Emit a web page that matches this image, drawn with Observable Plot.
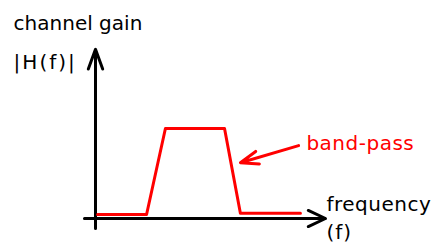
<!DOCTYPE html>
<html>
<head>
<meta charset="utf-8">
<script src="https://cdn.jsdelivr.net/npm/d3@7"></script>
<script src="https://cdn.jsdelivr.net/npm/@observablehq/plot@0.6"></script>
<style>
  html, body { margin: 0; padding: 0; background: #fff; }
</style>
</head>
<body>
<div id="chart"></div>
<script>
// Band-pass channel gain (arbitrary units)
const frequency = [0.09, 2.22, 3.04, 5.61, 6.30, 8.91];
const gain      = [0.044, 0.044, 1.0, 1.0, 0.058, 0.058];

// Axis extents (arbitrary units)
const xAxisFrom = [-0.48, 0], xAxisTo = [10.0, 0];
const yAxisFrom = [0, -0.11], yAxisTo = [0, 1.88];

// Annotation arrow (from label toward curve)
const annotFrom = [8.83, 0.81], annotTo = [6.30, 0.62];

// Text labels
const labelText = ["channel gain", "|H(f)|", "band-pass", "frequency", "(f)"];
const labelF    = [-3.56, -3.56, 9.17, 10.04, 10.04];
const labelG    = [2.09, 1.656, 0.756, 0.078, -0.225];
const labelColor = ["black", "black", "red", "black", "black"];
const labelSpacing = ["0px", "2px", "0.5px", "0.5px", "1px"];

const curve = frequency.map((f, i) => ({f, g: gain[i]}));
const labels = labelText.map((t, i) => ({t, f: labelF[i], g: labelG[i], c: labelColor[i]}));
const seg = (a, b) => [{x1: a[0], y1: a[1], x2: b[0], y2: b[1]}];

const chart = Plot.plot({
  width: 438,
  height: 244,
  marginLeft: 95,
  marginRight: 113,
  marginTop: 128,
  marginBottom: 26,
  x: {domain: [0, 10], axis: null},
  y: {domain: [0, 1], axis: null},
  style: {fontFamily: "DejaVu Sans", fontSize: "20px", background: "white"},
  marks: [
    Plot.arrow(seg(yAxisFrom, yAxisTo), {x1: "x1", y1: "y1", x2: "x2", y2: "y2",
      stroke: "black", strokeWidth: 3, headLength: 10.5, headAngle: 40}),
    Plot.arrow(seg(xAxisFrom, xAxisTo), {x1: "x1", y1: "y1", x2: "x2", y2: "y2",
      stroke: "black", strokeWidth: 3, headLength: 9.5, headAngle: 50}),
    Plot.line(curve, {x: "f", y: "g", stroke: "red", strokeWidth: 3,
      strokeLinejoin: "round", strokeLinecap: "round"}),
    Plot.arrow(seg(annotFrom, annotTo), {x1: "x1", y1: "y1", x2: "x2", y2: "y2",
      stroke: "red", strokeWidth: 3, headLength: 9.5, headAngle: 40}),
    Plot.text(labels, {x: "f", y: "g", text: "t", fill: "c",
      textAnchor: "start", lineAnchor: "bottom", fontSize: 20, fontFamily: "DejaVu Sans"})
  ]
});
d3.select(chart).selectAll("text").each(function() {
  const i = labelText.indexOf(this.textContent);
  if (i >= 0) this.style.letterSpacing = labelSpacing[i];
});
document.getElementById("chart").appendChild(chart);
</script>
</body>
</html>
